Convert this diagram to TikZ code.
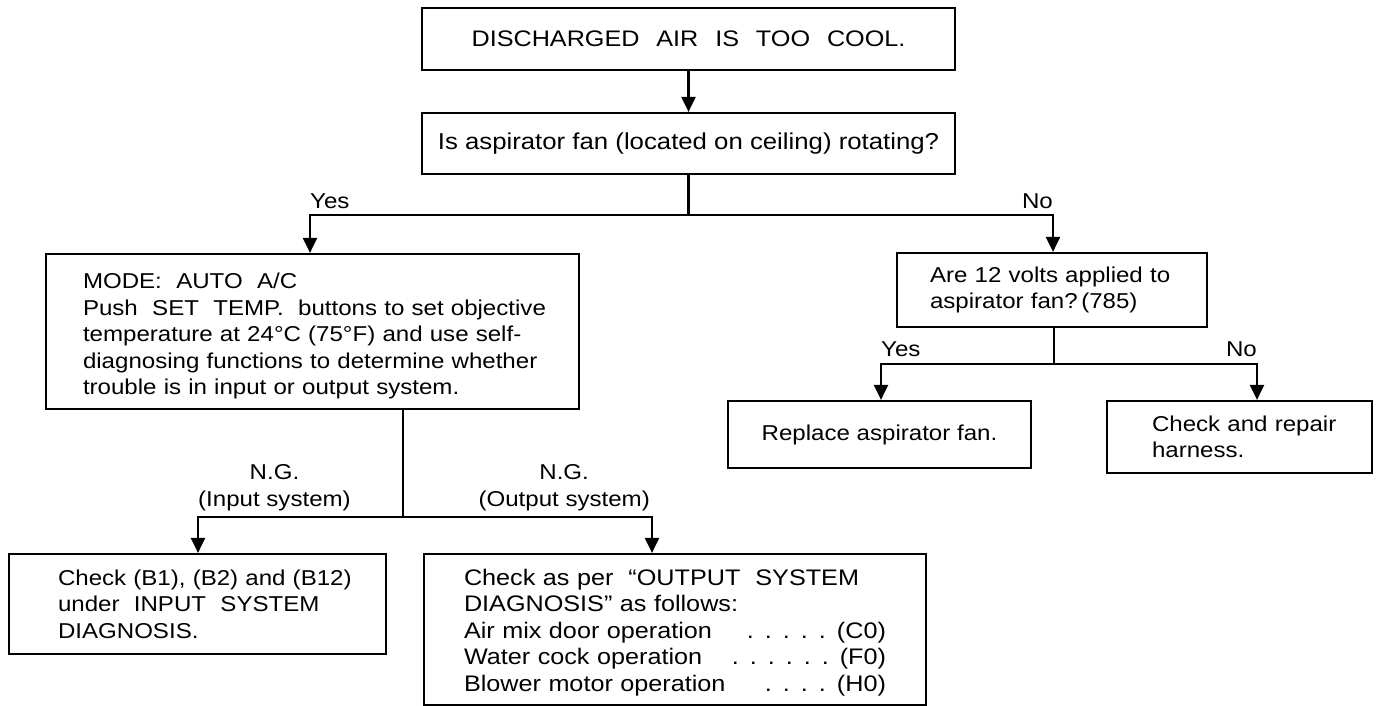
\documentclass[tikz,border=0pt]{standalone}
\usepackage{fontspec}
\setmainfont{Liberation Sans}[FakeStretch=1.12]
\usetikzlibrary{arrows.meta}
\newcommand{\dotsep}{.\hspace{11pt}}
\begin{document}
\begin{tikzpicture}[x=1pt,y=-1pt,
  every node/.style={font=\fontsize{21.5}{26.5}\selectfont},
  box/.style 2 args={draw, line width=2.2pt, minimum width=#1, minimum height=#2, inner sep=0pt},
  lbl/.style={inner sep=0pt},
  line/.style={line width=2.2pt},
  flow/.style={line width=2.2pt, -{Triangle[length=15pt,width=14pt]}}
]
\useasboundingbox (0,0) rectangle (1378,706);

% boxes
\node[box={533pt}{62pt}, align=center, font=\fontsize{22.5}{26.5}\selectfont] (top) at (688.5,39)
  {DISCHARGED\hspace{0.75em}AIR\hspace{0.75em}IS\hspace{0.75em}TOO\hspace{0.75em}COOL.};
\node[box={533pt}{61pt}, align=center, font=\fontsize{23}{26.5}\selectfont] (q1) at (688.5,143.5)
  {Is aspirator fan (located on ceiling) rotating?};
\node[box={533pt}{155pt}, text width=459pt, align=left] (mode) at (312.5,331.5)
  {\mbox{\rule{0pt}{25pt}MODE:\ \ AUTO\ \ A/C}\\
   \mbox{Push\ \ SET\ \ TEMP.\ \ buttons to set objective}\\
   \mbox{temperature at 24°C (75°F) and use self-}\\
   \mbox{diagnosing functions to determine whether}\\
   \mbox{trouble is in input or output system.}};
\node[box={310pt}{74pt}, text width=244pt, align=left] (are) at (1052,290)
  {\mbox{Are 12 volts applied to}\\\mbox{aspirator fan?\,(785)}};
\node[box={303pt}{67pt}, align=center] (repl) at (879.5,434.5)
  {Replace aspirator fan.};
\node[box={265pt}{72pt}, text width=175pt, align=left] (harn) at (1239.5,437)
  {\mbox{Check and repair}\\harness.};
\node[box={377pt}{100pt}, text width=279pt, align=left] (inp) at (197.5,604)
  {\mbox{Check (B1), (B2) and (B12)}\\\mbox{under\ \ INPUT\ \ SYSTEM}\\DIAGNOSIS.};
\node[box={502pt}{151pt}, text width=422pt, align=left, font=\fontsize{22.5}{26.5}\selectfont] (outp) at (675,629.5)
  {\mbox{\rule{0pt}{22pt}Check as per\ \ ``OUTPUT\ \ SYSTEM}\\
   \mbox{DIAGNOSIS'' as follows:}\\
   \makebox[422pt][l]{Air mix door operation\hfill\dotsep\dotsep\dotsep\dotsep\dotsep(C0)}\\
   \makebox[422pt][l]{Water cock operation\hfill\dotsep\dotsep\dotsep\dotsep\dotsep\dotsep(F0)}\\
   \makebox[422pt][l]{Blower motor operation\hfill\dotsep\dotsep\dotsep\dotsep(H0)}};

% labels
\node[lbl, anchor=base west] (yes1) at (310,208) {Yes};
\node[lbl, anchor=base east] (no1) at (1053,208) {No};
\node[lbl, anchor=base west] (yes2) at (881,356) {Yes};
\node[lbl, anchor=base east] (no2) at (1257,356) {No};
\node[lbl, anchor=south west, align=center] (ngin) at (198,511) {N.G.\\(Input system)};
\node[lbl, anchor=south east, align=center] (ngout) at (650,511) {N.G.\\(Output system)};

% junctions
\coordinate (j1) at (688.5,215);
\coordinate (ay) at (310,215);
\coordinate (an) at (1053,215);
\coordinate (j3) at (1054,364);
\coordinate (ry) at (881,364);
\coordinate (rn) at (1257,364);
\coordinate (j2) at (403,517);
\coordinate (gi) at (198,517);
\coordinate (go) at (652,517);

% connectors
\draw[flow] (top) -- (q1);
\draw[line] (q1.south) -- (j1);
\draw[flow] (j1) -| (ay |- mode.north);
\draw[flow] (j1) -| (an |- are.north);
\draw[line] (are.south -| j3) -- (j3);
\draw[flow] (j3) -| (ry |- repl.north);
\draw[flow] (j3) -| (rn |- harn.north);
\draw[line] (mode.south -| j2) -- (j2);
\draw[flow] (j2) -| (gi |- inp.north);
\draw[flow] (j2) -| (go |- outp.north);
\end{tikzpicture}
\end{document}
